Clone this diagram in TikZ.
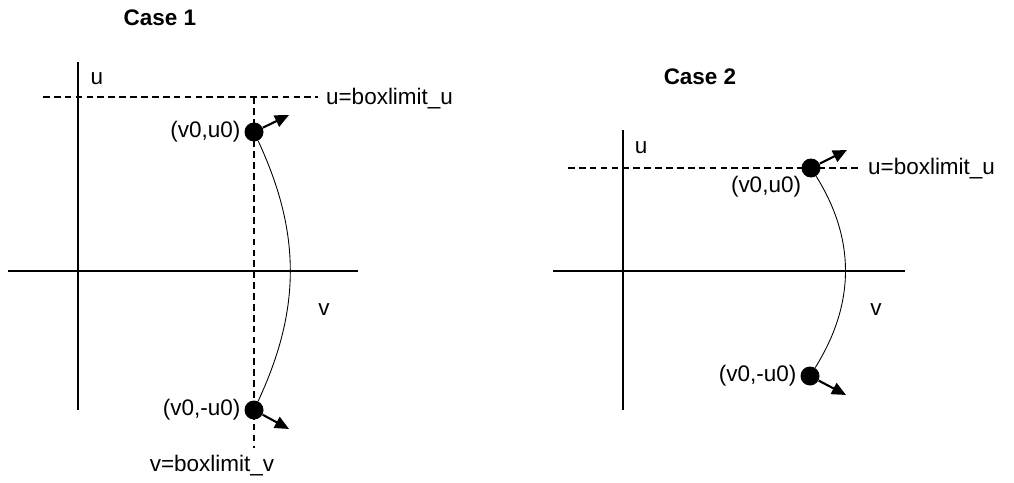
\documentclass[tikz,border=0pt]{standalone}
\usepackage{fontspec}
\setmainfont{Liberation Sans}
\usepackage{tikz}
\usetikzlibrary{arrows.meta, positioning}

\begin{document}
\begin{tikzpicture}[
    x=0.02cm, y=0.02cm,
    every node/.style={font=\fontsize{12.8}{15}\selectfont, inner sep=1pt},
    titlelabel/.style={font=\fontsize{12.8}{15}\selectfont\bfseries},
    axisline/.style={line width=0.6pt},
    limitline/.style={line width=0.6pt, dash pattern=on 3.8pt off 2.4pt},
    dotnode/.style={circle, fill=black, minimum size=19*0.02cm, inner sep=0pt},
    motion/.style={line width=0.5pt},
    arrow/.style={-{Triangle[length=8pt, width=7pt]}, line width=1.2pt}
  ]
    \useasboundingbox (0,0) rectangle (1014,-483);

    % Case 1
    \node[titlelabel] (title1) at (160,-18) {Case 1};
    \draw[axisline] (78,-62) -- (78,-410);
    \draw[axisline] (8,-271) -- (358,-271);
    \node (u1) at (97,-79) {u};
    \node (v1) at (324,-310) {v};
    \draw[limitline] (43,-97) -- (318,-97);
    \draw[limitline] (254,-97) -- (254,-448);
    \node[anchor=west] (ulim1) at (324,-99) {u=boxlimit\_u};
    \node (vlim1) at (212,-466) {v=boxlimit\_v};

    \node[dotnode] (dotA) at (254,-132) {};
    \node[dotnode] (dotB) at (254,-410) {};
    \node[left=1pt of dotA] (labA) {(v0,u0)};
    \node[left=1pt of dotB] (labB) {(v0,-u0)};
    \coordinate (tipA) at (289,-115);
    \coordinate (tipB) at (289,-429);
    \draw[motion] (dotA) to[out=-65, in=65] (dotB);
    \draw[arrow] (dotA) -- (tipA);
    \draw[arrow] (dotB) -- (tipB);

    % Case 2
    \node[titlelabel] (title2) at (700,-77) {Case 2};
    \draw[axisline] (623,-130) -- (623,-410);
    \draw[axisline] (553,-271) -- (905,-271);
    \node (u2) at (641,-148) {u};
    \node (v2) at (876,-310) {v};
    \draw[limitline] (568,-168) -- (860,-168);
    \node[anchor=west] (ulim2) at (866,-169) {u=boxlimit\_u};

    \node[dotnode] (dotC) at (811,-168) {};
    \node[dotnode] (dotD) at (810,-376) {};
    \node (labC) at (766,-187) {(v0,u0)};
    \node[left=1pt of dotD] (labD) {(v0,-u0)};
    \coordinate (tipC) at (847,-150);
    \coordinate (tipD) at (846,-395);
    \draw[motion] (dotC) to[out=-58, in=58] (dotD);
    \draw[arrow] (dotC) -- (tipC);
    \draw[arrow] (dotD) -- (tipD);
  \end{tikzpicture}
\end{document}
